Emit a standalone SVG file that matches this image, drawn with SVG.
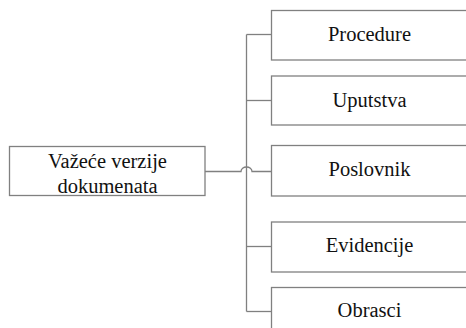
<svg xmlns="http://www.w3.org/2000/svg" width="466" height="328" viewBox="0 0 466 328">
<style>
.box{fill:#fff;stroke:#808080;stroke-width:1.3}
.con{fill:none;stroke:#808080;stroke-width:1.3}
.t{font-family:"Liberation Serif","Times New Roman",serif;font-size:20.5px;fill:#111;text-anchor:middle}
</style>
<rect width="466" height="328" fill="#fff"/>
<g id="connectors">
<path class="con" d="M246.5,34.5 V311.5"/>
<path class="con" d="M246.5,34.5 H271"/>
<path class="con" d="M246.5,100.5 H271"/>
<path class="con" d="M246.5,246.5 H271"/>
<path class="con" d="M246.5,311.5 H271"/>
<path class="con" d="M205,171.5 H241 A5.5,4.5 0 0 1 252,171.5 H271"/>
</g>
<g id="root">
<rect class="box" x="9.5" y="146.5" width="195.5" height="49"/>
<text class="t" x="107.5" y="167.5">Važeće verzije</text>
<text class="t" x="107.5" y="192.5">dokumenata</text>
</g>
<g id="procedure">
<rect class="box" x="271.5" y="10.5" width="197" height="49.5"/>
<text class="t" x="369.5" y="41">Procedure</text>
</g>
<g id="uputstva">
<rect class="box" x="271.5" y="76" width="197" height="49"/>
<text class="t" x="369.5" y="106.5">Uputstva</text>
</g>
<g id="poslovnik">
<rect class="box" x="271.5" y="145.5" width="197" height="50.5"/>
<text class="t" x="369.5" y="175.5">Poslovnik</text>
</g>
<g id="evidencije">
<rect class="box" x="271.5" y="222" width="197" height="50"/>
<text class="t" x="369.5" y="251.5">Evidencije</text>
</g>
<g id="obrasci">
<rect class="box" x="271.5" y="287.5" width="197" height="50"/>
<text class="t" x="369.5" y="317">Obrasci</text>
</g>
</svg>
